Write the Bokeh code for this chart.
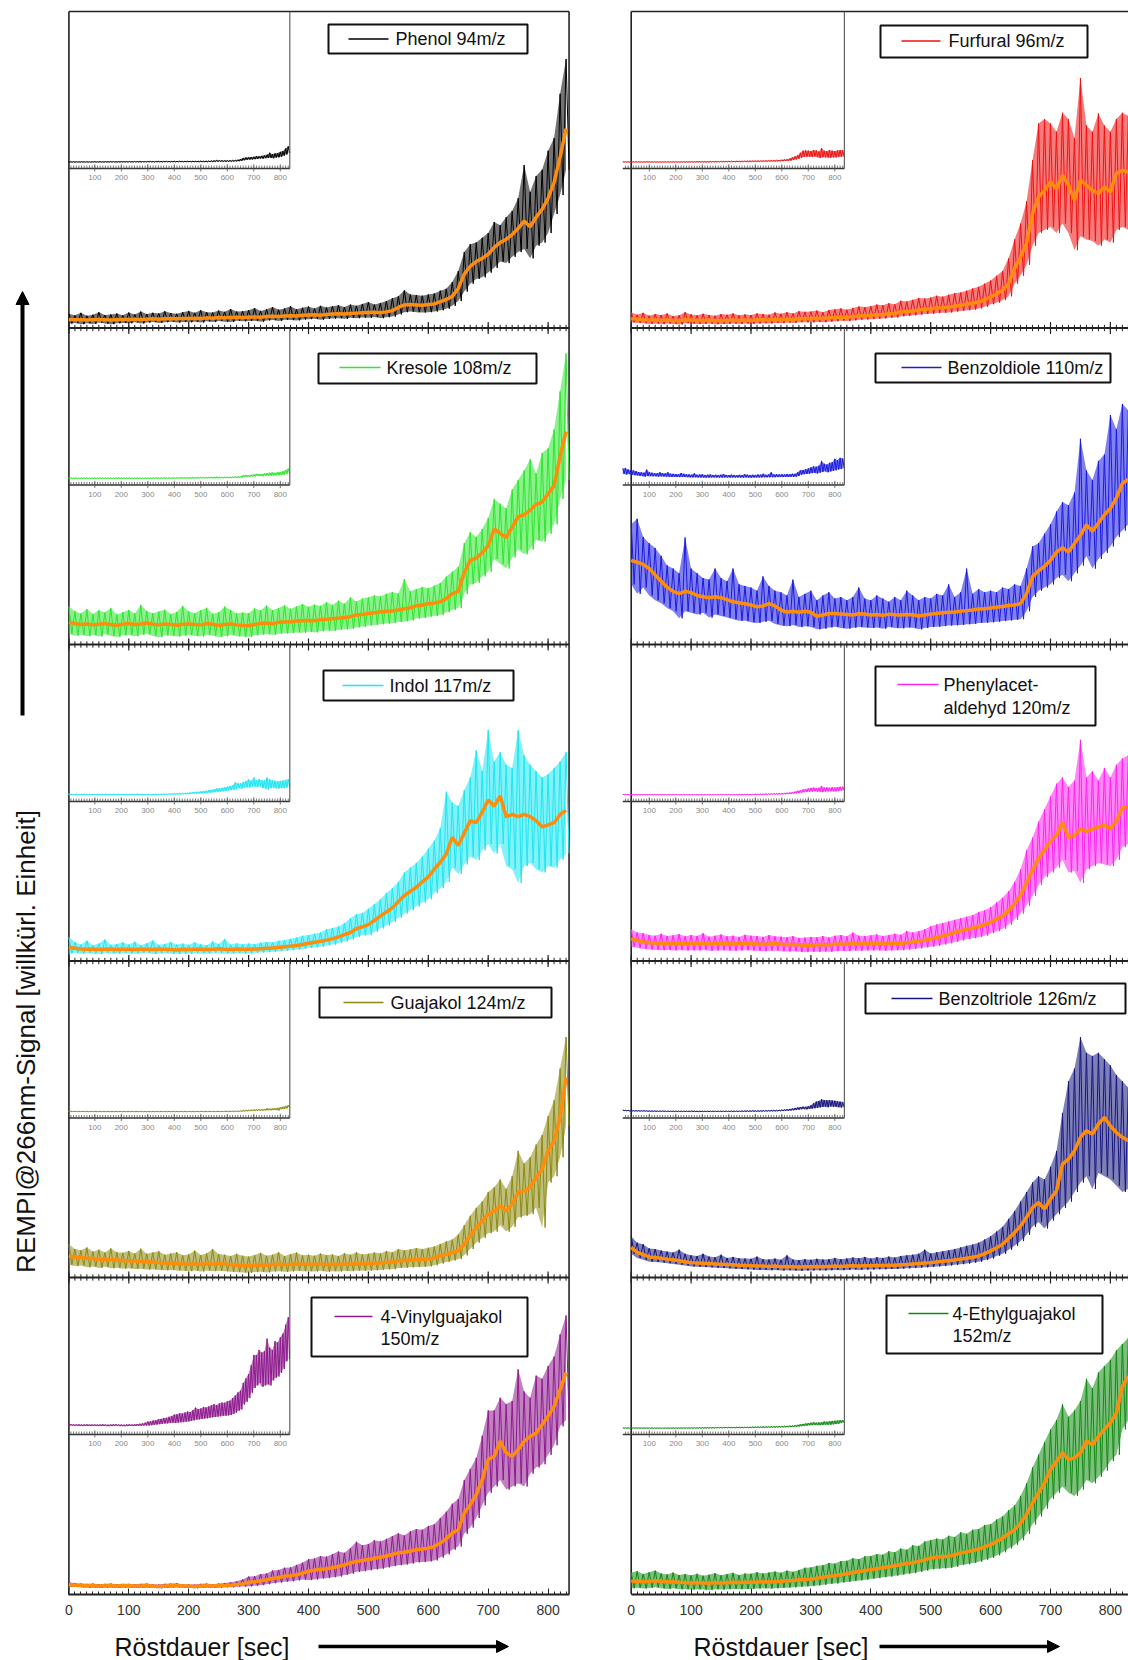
import numpy as np
from bokeh.plotting import figure
from bokeh.models import (Range1d, LinearAxis, Label, Arrow, NormalHead,
                          BoxAnnotation, FixedTicker)
from bokeh.layouts import row
from bokeh.embed import file_html
from bokeh.resources import INLINE
from bokeh.core.properties import value

# ---------------------------------------------------------------- data
TIME = list(range(0, 840, 10))                  # bin start [sec]
X_TICKS = [0, 100, 200, 300, 400, 500, 600, 700, 800]
X_MINOR = list(range(0, 840, 10))
INSET_TICKS = [100, 200, 300, 400, 500, 600, 700, 800]
INSET_LABELS = ["100", "200", "300", "400", "500", "600", "700", "800"]

# Phenol 94 m/z
PHENOL_S = [2.7, 2.6, 2.6, 2.5, 2.6, 2.7, 2.6, 2.5, 2.6, 2.7,
            2.7, 2.8, 2.7, 2.8, 2.9, 2.8, 2.9, 3.0, 2.9, 3.0,
            3.0, 3.1, 3.0, 3.2, 3.1, 3.3, 3.2, 3.3, 3.4, 3.3,
            3.4, 3.5, 3.4, 3.6, 3.7, 3.6, 3.8, 3.9, 3.8, 4.0,
            4.1, 4.2, 4.0, 4.3, 4.4, 4.5, 4.4, 4.6, 4.7, 4.8,
            4.9, 5.0, 4.8, 5.1, 5.5, 6.5, 7.3, 7.4, 7.3, 7.2,
            7.4, 7.6, 8.3, 9.0, 10.0, 12.5, 17.0, 19.5, 21.0, 22.0,
            23.3, 25.5, 27.0, 28.0, 29.5, 31.5, 33.8, 32.0, 35.0, 37.5,
            41.0, 46.0, 54.0, 63.0]
PHENOL_HI = [4.5, 4.0, 4.8, 3.9, 4.2, 5.0, 4.1, 4.3, 4.6, 4.0,
             4.9, 4.3, 5.2, 4.4, 4.8, 4.6, 5.3, 4.7, 4.5, 5.0,
             5.4, 4.8, 5.6, 5.0, 4.9, 5.5, 5.1, 6.0, 5.2, 5.3,
             5.6, 6.3, 5.4, 5.9, 6.6, 5.8, 6.2, 6.9, 5.9, 6.4,
             6.8, 6.2, 7.0, 6.5, 6.9, 7.2, 6.6, 7.4, 7.0, 7.6,
             8.2, 7.4, 7.9, 8.5, 9.4, 10.0, 11.9, 10.6, 10.4, 10.2,
             10.6, 10.9, 11.8, 12.4, 14.5, 18.0, 24.0, 26.5, 27.0, 28.5,
             30.0, 33.5, 32.5, 35.0, 37.0, 41.0, 51.5, 43.0, 48.0, 50.0,
             56.0, 60.0, 74.0, 85.0]
PHENOL_LO = [1.4, 1.6, 1.2, 1.5, 1.3, 1.7, 1.4, 1.2, 1.5, 1.6,
             1.5, 1.8, 1.4, 1.7, 1.9, 1.6, 1.8, 2.0, 1.7, 1.9,
             1.8, 2.0, 1.7, 2.1, 1.9, 2.2, 2.0, 1.9, 2.3, 2.1,
             2.2, 2.3, 2.0, 2.4, 2.5, 2.2, 2.6, 2.5, 2.4, 2.7,
             2.8, 2.9, 2.6, 2.9, 3.0, 3.1, 2.9, 3.2, 3.1, 3.3,
             3.2, 3.5, 3.1, 3.4, 3.6, 4.3, 5.0, 5.2, 5.0, 4.9,
             5.0, 5.2, 5.6, 6.1, 7.0, 8.5, 11.5, 14.0, 15.5, 16.0,
             17.5, 19.0, 21.0, 20.5, 22.5, 24.0, 25.0, 22.0, 26.0, 27.0,
             30.0, 36.0, 42.0, 50.0]

# Kresole 108 m/z
KRESOLE_S = [7.0, 6.6, 6.3, 6.5, 6.2, 6.4, 6.6, 6.3, 6.1, 6.4,
             6.6, 6.3, 6.5, 6.8, 6.4, 6.2, 6.5, 6.3, 6.1, 6.4,
             6.5, 6.3, 6.2, 6.6, 6.4, 6.0, 6.3, 6.5, 6.2, 6.0,
             5.9, 6.3, 6.6, 6.8, 6.5, 7.0, 7.1, 7.2, 7.4, 7.5,
             7.6, 7.5, 7.8, 8.0, 8.1, 8.3, 8.5, 8.8, 9.3, 9.5,
             9.8, 10.0, 10.3, 10.5, 10.6, 10.9, 11.3, 11.6, 12.2, 12.5,
             12.9, 13.1, 13.5, 14.5, 16.1, 16.8, 22.7, 26.6, 27.3, 29.0,
             31.2, 36.5, 35.1, 33.8, 37.1, 40.4, 41.0, 42.4, 44.3, 45.0,
             47.6, 50.2, 59.4, 67.3]
KRESOLE_HI = [12.0, 10.5, 9.8, 11.2, 9.6, 10.8, 10.1, 11.5, 9.5, 10.2,
              10.9, 9.8, 12.5, 10.6, 9.9, 10.4, 11.0, 9.6, 10.3, 12.2,
              10.5, 9.9, 10.8, 11.6, 9.7, 10.2, 12.0, 10.9, 9.8, 10.1,
              9.9, 11.4, 10.8, 12.3, 10.9, 11.5, 12.4, 11.3, 12.0, 12.8,
              11.9, 12.6, 12.2, 13.4, 12.5, 13.8, 12.9, 14.9, 13.6, 14.5,
              14.9, 15.5, 15.2, 16.0, 16.6, 16.1, 20.7, 16.8, 17.5, 18.2,
              17.8, 18.6, 19.4, 21.5, 23.0, 24.5, 32.0, 35.5, 34.0, 36.5,
              40.0, 46.0, 44.5, 43.0, 49.0, 52.0, 55.0, 58.5, 54.0, 60.5,
              62.0, 68.0, 80.0, 92.0]
KRESOLE_LO = [3.4, 2.8, 3.1, 2.6, 3.0, 2.5, 3.2, 2.7, 2.4, 2.9,
              3.0, 2.6, 3.1, 3.3, 2.7, 2.3, 2.9, 2.8, 2.5, 2.8,
              3.0, 2.7, 2.5, 3.1, 2.8, 2.4, 2.6, 3.0, 2.6, 2.5,
              2.4, 2.9, 3.1, 3.3, 3.0, 3.4, 3.5, 3.6, 3.8, 3.7,
              4.0, 3.8, 4.2, 4.4, 4.3, 4.6, 4.8, 5.0, 5.4, 5.6,
              6.0, 6.2, 6.4, 6.6, 6.8, 7.1, 7.3, 7.6, 8.2, 8.4,
              8.8, 9.0, 9.3, 10.2, 11.0, 11.5, 16.0, 19.0, 19.5, 21.5,
              23.0, 27.0, 25.5, 24.0, 27.5, 30.0, 28.5, 30.0, 33.0, 32.5,
              35.0, 38.0, 46.0, 52.0]

# Indol 117 m/z
INDOL_S = [4.3, 4.0, 3.8, 3.7, 3.8, 3.6, 3.7, 3.8, 3.6, 3.7,
           3.7, 3.6, 3.8, 3.7, 3.6, 3.8, 3.7, 3.6, 3.5, 3.7,
           3.6, 3.7, 3.8, 3.6, 3.7, 3.9, 3.7, 3.6, 3.8, 3.7,
           3.7, 3.8, 3.9, 4.0, 4.1, 4.3, 4.5, 4.7, 4.9, 5.2,
           5.6, 5.9, 6.2, 6.6, 7.0, 7.6, 8.3, 9.0, 10.2, 10.8,
           11.5, 12.8, 14.2, 15.5, 16.8, 18.8, 20.7, 22.0, 23.3, 25.0,
           26.6, 29.0, 31.2, 33.8, 39.1, 36.5, 40.4, 44.3, 43.7, 47.0,
           50.9, 48.9, 52.2, 45.6, 46.3, 45.6, 46.3, 45.6, 44.3, 42.4,
           43.0, 43.7, 46.3, 47.6]
INDOL_HI = [7.5, 6.0, 5.2, 6.4, 5.0, 5.5, 6.8, 5.1, 5.4, 5.9,
            5.2, 6.1, 5.0, 5.6, 6.5, 5.1, 5.4, 6.0, 5.2, 5.5,
            5.1, 5.9, 5.3, 5.0, 6.2, 5.4, 7.0, 5.2, 5.6, 5.3,
            5.5, 5.4, 5.8, 6.0, 5.9, 6.4, 6.6, 7.0, 7.4, 8.0,
            8.2, 8.6, 9.0, 10.0, 10.4, 10.9, 12.0, 13.5, 14.8, 15.2,
            16.5, 18.0, 19.5, 21.5, 23.0, 25.0, 28.0, 29.5, 31.0, 33.0,
            35.5, 38.0, 42.0, 53.5, 50.0, 49.0, 54.0, 58.0, 66.6, 60.0,
            73.0, 63.0, 66.0, 62.0, 61.0, 73.0, 65.0, 62.0, 60.0, 58.0,
            59.0, 61.0, 63.0, 66.0]
INDOL_LO = [2.4, 2.6, 2.3, 2.5, 2.4, 2.2, 2.6, 2.4, 2.3, 2.5,
            2.4, 2.3, 2.5, 2.6, 2.2, 2.4, 2.5, 2.3, 2.2, 2.4,
            2.3, 2.5, 2.4, 2.3, 2.6, 2.5, 2.4, 2.3, 2.5, 2.4,
            2.4, 2.6, 2.7, 2.8, 2.9, 3.1, 3.2, 3.4, 3.6, 3.8,
            4.1, 4.3, 4.5, 4.9, 5.2, 5.7, 6.2, 6.8, 7.6, 8.1,
            8.2, 9.2, 10.3, 11.2, 12.3, 13.6, 15.0, 16.0, 17.2, 18.5,
            19.5, 21.5, 23.0, 25.0, 29.5, 27.5, 30.5, 33.0, 32.0, 35.0,
            37.0, 34.0, 37.0, 30.0, 29.0, 24.7, 30.0, 31.0, 29.0, 28.0,
            30.0, 29.5, 32.0, 34.0]

# Guajakol 124 m/z
GUAJAKOL_S = [6.8, 6.5, 6.3, 6.1, 6.0, 5.8, 5.7, 5.6, 5.5, 5.4,
              5.3, 5.2, 5.1, 5.0, 4.9, 4.7, 4.6, 4.5, 4.4, 4.3,
              4.2, 4.3, 4.1, 4.4, 4.2, 4.4, 4.3, 4.0, 3.9, 3.8,
              3.7, 3.8, 4.0, 3.9, 4.1, 4.2, 4.0, 4.1, 4.3, 4.2,
              4.2, 4.1, 4.3, 4.0, 4.2, 4.1, 4.3, 4.2, 4.4, 4.3,
              4.4, 4.5, 4.6, 4.8, 4.9, 5.3, 5.4, 5.5, 5.6, 5.7,
              5.8, 6.2, 6.8, 7.3, 7.9, 8.4, 10.5, 13.2, 15.8, 17.9,
              20.0, 21.0, 22.7, 21.0, 23.2, 26.9, 27.4, 28.5, 31.6, 34.2,
              40.0, 43.2, 50.6, 63.2]
GUAJAKOL_HI = [10.5, 9.0, 8.6, 9.5, 8.2, 8.8, 7.9, 9.2, 8.0, 7.8,
               8.4, 7.6, 9.1, 7.5, 7.9, 8.3, 7.2, 7.6, 8.0, 7.0,
               7.3, 8.5, 7.1, 7.6, 9.0, 7.4, 7.2, 6.8, 7.5, 6.9,
               6.6, 7.1, 7.8, 6.9, 7.2, 8.0, 6.8, 7.4, 7.9, 7.0,
               7.2, 6.9, 7.6, 7.1, 7.3, 6.8, 7.7, 7.2, 8.0, 7.3,
               7.5, 7.9, 7.6, 8.4, 8.0, 9.0, 8.6, 8.9, 9.3, 9.0,
               9.4, 9.8, 10.6, 11.4, 12.0, 13.6, 16.5, 19.5, 22.0, 24.0,
               27.0, 28.5, 31.0, 28.0, 32.0, 40.0, 36.0, 38.0, 42.0, 45.0,
               51.0, 56.0, 66.0, 76.0]
GUAJAKOL_LO = [4.0, 3.6, 3.8, 3.2, 3.5, 3.0, 3.4, 2.9, 3.1, 2.8,
               2.9, 2.7, 2.8, 2.5, 2.6, 2.4, 2.3, 2.4, 2.2, 2.1,
               2.0, 2.2, 1.9, 2.2, 2.0, 2.1, 2.0, 1.8, 1.7, 1.6,
               1.5, 1.7, 1.8, 1.6, 1.9, 2.0, 1.8, 1.9, 2.1, 2.0,
               2.0, 1.9, 2.1, 1.8, 2.0, 1.9, 2.1, 2.0, 2.2, 2.1,
               2.2, 2.3, 2.4, 2.6, 2.6, 3.0, 3.1, 3.2, 3.3, 3.4,
               3.5, 3.9, 4.4, 4.9, 5.4, 5.8, 7.0, 9.0, 11.0, 12.5,
               14.0, 14.5, 16.5, 14.5, 16.0, 19.0, 19.5, 20.0, 22.0, 15.8,
               30.0, 32.0, 38.0, 48.0]

# 4-Vinylguajakol 150 m/z
VINYL_S = [3.0, 2.8, 2.7, 2.6, 2.6, 2.5, 2.6, 2.6, 2.5, 2.6,
           2.6, 2.5, 2.5, 2.6, 2.5, 2.4, 2.5, 2.6, 2.7, 2.5,
           2.5, 2.4, 2.5, 2.6, 2.5, 2.6, 2.7, 2.8, 3.0, 3.2,
           3.7, 3.9, 4.2, 4.5, 4.9, 5.2, 5.6, 5.8, 6.1, 6.6,
           7.2, 7.5, 7.8, 8.0, 8.3, 8.7, 9.2, 9.8, 10.3, 10.6,
           10.9, 11.3, 11.6, 12.0, 12.5, 13.0, 13.2, 13.6, 14.0, 14.2,
           14.5, 15.0, 16.1, 17.5, 19.3, 20.3, 25.6, 28.2, 31.4, 36.1,
           42.5, 43.5, 48.3, 44.6, 43.5, 45.6, 48.3, 49.8, 50.9, 53.5,
           56.2, 59.3, 64.6, 69.9]
VINYL_HI = [3.8, 3.4, 3.3, 3.2, 3.3, 3.1, 3.2, 3.3, 3.1, 3.2,
            3.2, 3.1, 3.2, 3.3, 3.1, 3.0, 3.2, 3.3, 3.4, 3.1,
            3.1, 3.0, 3.2, 3.3, 3.1, 3.3, 3.5, 3.7, 4.0, 4.6,
            5.5, 5.6, 6.3, 6.5, 7.4, 7.6, 8.3, 8.4, 9.2, 9.9,
            11.0, 11.2, 12.0, 11.8, 12.6, 13.4, 13.0, 14.5, 16.5, 15.4,
            15.8, 17.0, 16.6, 17.4, 18.3, 19.2, 18.5, 19.8, 20.5, 20.3,
            21.5, 22.0, 24.0, 26.0, 28.5, 30.0, 36.0, 39.5, 43.0, 50.0,
            58.0, 58.0, 62.0, 60.0, 61.0, 71.0, 64.0, 62.0, 69.0, 68.0,
            72.0, 75.0, 82.0, 88.0]
VINYL_LO = [2.3, 2.2, 2.1, 2.0, 2.0, 1.9, 2.0, 2.0, 1.9, 2.0,
            2.0, 1.9, 1.9, 2.0, 1.9, 1.8, 1.9, 2.0, 2.1, 1.9,
            1.9, 1.8, 1.9, 2.0, 1.9, 2.0, 2.1, 2.1, 2.3, 2.4,
            2.4, 2.6, 2.8, 3.1, 3.4, 3.6, 3.9, 4.0, 4.3, 4.6,
            4.4, 4.6, 4.9, 5.0, 5.3, 5.5, 6.0, 6.4, 7.0, 7.2,
            7.5, 7.8, 8.0, 8.4, 8.8, 9.1, 9.3, 9.6, 10.0, 10.1,
            10.3, 10.6, 11.5, 12.5, 14.0, 15.0, 19.0, 21.0, 24.0, 28.0,
            32.0, 34.0, 36.0, 33.0, 34.0, 35.0, 34.0, 38.0, 40.0, 41.0,
            44.0, 47.0, 53.0, 55.0]

# Furfural 96 m/z
FURFURAL_S = [3.0, 2.8, 2.6, 2.5, 2.5, 2.4, 2.5, 2.4, 2.3, 2.6,
              2.5, 2.4, 2.4, 2.5, 2.3, 2.4, 2.4, 2.5, 2.4, 2.5,
              2.4, 2.5, 2.6, 2.5, 2.7, 2.6, 2.8, 2.7, 2.9, 2.9,
              3.0, 3.1, 3.0, 3.2, 3.3, 3.5, 3.4, 3.6, 3.8, 3.9,
              4.0, 4.2, 4.3, 4.5, 4.6, 5.1, 5.2, 5.4, 5.7, 5.9,
              6.1, 6.3, 6.4, 6.6, 6.9, 7.2, 7.5, 7.8, 8.2, 8.9,
              9.8, 10.8, 11.9, 14.0, 18.8, 22.4, 26.7, 36.1, 41.4, 43.5,
              46.2, 44.0, 48.3, 45.1, 40.4, 46.7, 45.1, 43.5, 42.5, 44.6,
              43.0, 48.8, 49.8, 49.3]
FURFURAL_HI = [5.0, 4.2, 4.8, 3.9, 4.4, 4.1, 4.6, 3.8, 4.0, 5.0,
               4.3, 4.0, 4.5, 4.1, 3.9, 4.4, 4.2, 4.6, 4.0, 4.3,
               4.1, 4.6, 4.4, 4.2, 4.9, 4.5, 5.0, 4.6, 5.3, 5.1,
               5.2, 5.5, 5.0, 5.7, 5.9, 6.2, 5.8, 6.3, 6.8, 6.6,
               6.9, 7.4, 7.2, 7.8, 7.5, 8.6, 8.4, 8.9, 9.5, 9.3,
               9.6, 10.2, 9.9, 10.5, 11.0, 11.2, 11.8, 12.5, 13.0, 14.0,
               15.0, 16.5, 18.0, 22.0, 28.0, 33.0, 40.0, 53.0, 64.6, 66.0,
               64.6, 62.0, 68.0, 66.0, 60.0, 79.0, 64.0, 62.0, 67.8, 64.0,
               62.0, 66.0, 68.0, 67.0]
FURFURAL_LO = [1.8, 1.6, 1.5, 1.3, 1.4, 1.2, 1.4, 1.3, 1.1, 1.5,
               1.4, 1.3, 1.3, 1.4, 1.2, 1.3, 1.3, 1.4, 1.3, 1.4,
               1.3, 1.4, 1.5, 1.4, 1.6, 1.5, 1.7, 1.6, 1.8, 1.8,
               1.8, 1.9, 1.8, 2.0, 2.1, 2.3, 2.2, 2.4, 2.6, 2.7,
               2.8, 2.9, 3.0, 3.2, 3.3, 3.7, 3.8, 4.0, 4.2, 4.4,
               4.5, 4.7, 4.8, 4.9, 5.2, 5.4, 5.6, 5.8, 6.2, 6.7,
               7.5, 8.0, 8.8, 10.0, 14.0, 16.5, 20.0, 26.0, 30.0, 31.0,
               32.0, 30.0, 33.0, 30.0, 24.6, 29.0, 28.0, 27.5, 26.0, 28.0,
               27.0, 31.0, 32.0, 31.0]

# Benzoldiole 110 m/z
BENZOLDIOLE_S = [26.6, 26.0, 25.3, 24.0, 22.0, 20.0, 18.1, 16.8, 16.1, 16.8,
                 16.4, 15.5, 15.1, 14.8, 15.1, 14.8, 14.2, 13.5, 13.2, 12.9,
                 12.5, 11.9, 12.2, 12.9, 12.2, 10.9, 10.2, 10.5, 10.2, 10.5,
                 10.2, 8.9, 9.3, 9.8, 9.8, 9.6, 9.5, 9.3, 9.7, 9.6,
                 9.3, 9.5, 9.2, 9.6, 9.4, 9.3, 9.5, 9.4, 9.0, 9.3,
                 9.6, 9.8, 10.0, 10.2, 10.3, 10.5, 10.7, 10.9, 11.2, 11.3,
                 11.5, 11.8, 12.0, 12.3, 12.5, 12.9, 16.1, 21.4, 23.3, 24.7,
                 26.6, 29.2, 30.6, 29.2, 31.9, 34.5, 37.8, 35.8, 38.4, 41.0,
                 43.0, 46.3, 50.9, 52.2]
BENZOLDIOLE_HI = [38.0, 39.7, 34.0, 32.0, 30.5, 28.0, 25.0, 24.0, 22.5, 33.8,
                  24.0, 22.5, 21.0, 20.5, 24.0, 21.0, 20.0, 24.0, 19.0, 18.5,
                  18.0, 17.0, 21.5, 18.5, 17.0, 16.5, 15.5, 20.5, 15.0, 16.0,
                  17.0, 14.0, 15.5, 16.5, 14.5, 15.0, 14.0, 15.0, 18.0, 14.5,
                  14.0, 15.5, 14.5, 13.5, 15.0, 14.0, 17.0, 15.5, 14.0, 15.0,
                  14.5, 16.0, 15.5, 19.0, 15.0, 16.5, 24.0, 16.0, 17.5, 16.5,
                  17.0, 16.5, 18.0, 17.5, 19.0, 18.5, 24.0, 31.0, 32.0, 35.0,
                  38.0, 42.0, 45.0, 44.0, 48.0, 65.0, 55.0, 52.0, 58.0, 60.0,
                  72.5, 68.0, 76.0, 74.0]
BENZOLDIOLE_LO = [19.0, 16.0, 18.0, 15.5, 14.0, 13.0, 11.5, 10.5, 8.3, 10.5,
                  10.0, 9.5, 10.0, 8.5, 9.5, 9.0, 8.5, 8.0, 7.5, 7.5,
                  7.0, 6.8, 7.2, 7.5, 6.5, 6.0, 5.8, 6.2, 5.5, 5.8,
                  5.5, 4.8, 5.0, 5.4, 5.6, 5.2, 5.0, 5.3, 5.5, 5.4,
                  5.2, 5.4, 5.0, 5.5, 5.2, 5.1, 5.4, 5.3, 4.8, 5.2,
                  5.5, 5.6, 5.8, 6.0, 6.1, 6.2, 6.4, 6.5, 6.8, 6.9,
                  7.0, 7.2, 7.4, 7.6, 7.8, 8.0, 10.5, 15.0, 17.0, 18.0,
                  19.0, 21.0, 22.0, 20.0, 22.5, 25.0, 28.0, 24.0, 27.0, 29.0,
                  31.0, 34.0, 36.0, 38.0]

# Phenylacetaldehyd 120 m/z
PHENYLACET_S = [7.0, 6.6, 6.0, 5.8, 5.7, 5.6, 5.6, 5.5, 5.6, 5.5,
                5.6, 5.5, 5.6, 5.4, 5.5, 5.6, 5.5, 5.4, 5.5, 5.6,
                5.5, 5.4, 5.3, 5.4, 5.5, 5.3, 5.2, 5.2, 5.1, 5.0,
                5.0, 5.1, 5.2, 5.1, 5.3, 5.4, 5.3, 5.5, 5.4, 5.5,
                5.5, 5.6, 5.4, 5.5, 5.6, 5.6, 5.8, 6.0, 6.3, 6.6,
                7.0, 7.4, 7.9, 8.4, 9.0, 9.6, 10.0, 10.4, 10.9, 11.5,
                12.2, 13.2, 14.2, 16.0, 18.1, 20.7, 24.7, 28.6, 32.5, 35.1,
                37.8, 39.7, 43.7, 39.1, 39.7, 41.7, 41.0, 41.7, 42.4, 43.0,
                41.7, 44.3, 48.3, 48.9]
PHENYLACET_HI = [10.0, 9.0, 8.8, 8.2, 8.0, 8.6, 7.9, 8.1, 8.5, 7.8,
                 8.2, 7.9, 8.8, 7.7, 8.0, 8.4, 7.8, 8.0, 7.6, 8.3,
                 8.0, 7.9, 7.6, 8.2, 7.8, 7.7, 7.5, 7.9, 7.3, 7.4,
                 7.6, 7.5, 7.9, 7.4, 8.0, 8.2, 7.8, 9.0, 8.0, 7.9,
                 8.1, 8.4, 7.9, 8.2, 8.6, 8.3, 9.5, 9.0, 9.4, 10.0,
                 11.0, 11.5, 12.0, 12.5, 13.0, 13.5, 14.0, 14.5, 15.5, 16.0,
                 17.0, 18.5, 20.0, 22.0, 25.0, 29.0, 35.0, 39.0, 44.0, 48.0,
                 52.0, 56.0, 58.0, 55.0, 57.0, 69.9, 58.0, 60.0, 57.0, 61.0,
                 58.0, 62.0, 64.0, 65.0]
PHENYLACET_LO = [4.5, 4.2, 3.8, 3.6, 3.5, 3.4, 3.5, 3.3, 3.5, 3.3,
                 3.4, 3.3, 3.5, 3.2, 3.3, 3.4, 3.3, 3.2, 3.3, 3.4,
                 3.3, 3.2, 3.1, 3.2, 3.3, 3.1, 3.0, 3.1, 2.9, 2.8,
                 2.9, 2.9, 3.0, 2.9, 3.1, 3.2, 3.1, 3.3, 3.2, 3.3,
                 3.3, 3.4, 3.2, 3.3, 3.4, 3.4, 3.6, 3.8, 4.0, 4.3,
                 4.5, 4.8, 5.2, 5.6, 6.0, 6.5, 6.9, 7.2, 7.6, 8.0,
                 8.8, 9.4, 10.2, 11.5, 13.0, 15.0, 17.5, 20.5, 24.0, 26.5,
                 28.0, 29.5, 32.0, 28.0, 28.5, 24.7, 29.0, 30.0, 31.0, 30.5,
                 30.0, 32.0, 36.0, 37.0]

# Benzoltriole 126 m/z
BENZOLTRIOLE_S = [9.5, 7.9, 7.2, 6.5, 6.3, 6.1, 5.8, 5.6, 5.3, 5.0,
                  4.7, 4.6, 4.5, 4.4, 4.3, 4.2, 4.1, 4.0, 3.9, 3.8,
                  3.7, 3.6, 3.6, 3.5, 3.6, 3.4, 3.5, 3.4, 3.3, 3.4,
                  3.4, 3.5, 3.4, 3.5, 3.6, 3.5, 3.6, 3.7, 3.6, 3.7,
                  3.7, 3.8, 3.8, 3.9, 3.9, 4.0, 4.1, 4.3, 4.4, 4.6,
                  4.7, 4.9, 5.1, 5.3, 5.5, 5.8, 6.1, 6.4, 6.8, 7.5,
                  8.4, 9.4, 10.5, 12.3, 14.2, 16.3, 19.0, 22.1, 23.7, 21.6,
                  24.8, 27.4, 35.8, 37.4, 40.0, 44.3, 46.4, 45.3, 48.5, 50.6,
                  47.9, 45.8, 44.3, 43.2]
BENZOLTRIOLE_HI = [13.0, 11.0, 10.5, 9.2, 9.0, 8.5, 8.2, 7.9, 8.8, 7.5,
                   7.0, 6.8, 7.5, 6.6, 6.4, 7.2, 6.2, 6.5, 6.1, 6.0,
                   5.9, 6.6, 5.8, 5.7, 6.0, 5.6, 7.0, 5.7, 5.5, 5.8,
                   5.6, 5.9, 5.7, 5.8, 6.2, 5.8, 6.0, 6.3, 6.1, 6.5,
                   6.0, 6.4, 6.2, 6.6, 6.3, 6.8, 7.0, 7.2, 7.5, 8.8,
                   7.6, 8.0, 8.3, 8.6, 9.0, 9.5, 10.0, 10.4, 11.0, 12.0,
                   13.0, 14.5, 16.0, 18.5, 21.0, 24.0, 27.0, 30.0, 32.0, 31.0,
                   35.0, 40.0, 52.0, 62.0, 66.0, 75.9, 71.0, 70.0, 71.0, 69.0,
                   67.0, 64.0, 62.0, 60.0]
BENZOLTRIOLE_LO = [7.5, 6.2, 5.6, 5.0, 4.9, 4.7, 4.5, 4.3, 4.0, 3.8,
                   3.5, 3.4, 3.3, 3.2, 3.1, 3.0, 2.9, 2.8, 2.7, 2.6,
                   2.5, 2.4, 2.4, 2.3, 2.4, 2.2, 2.3, 2.2, 2.1, 2.2,
                   2.2, 2.3, 2.2, 2.3, 2.4, 2.3, 2.4, 2.5, 2.4, 2.5,
                   2.5, 2.6, 2.6, 2.7, 2.7, 2.8, 2.9, 3.0, 3.1, 3.2,
                   3.3, 3.5, 3.6, 3.8, 4.0, 4.2, 4.4, 4.7, 5.0, 5.5,
                   6.0, 6.8, 7.5, 8.8, 10.0, 11.5, 13.5, 16.0, 17.5, 15.5,
                   18.0, 20.0, 22.0, 24.0, 27.0, 30.0, 32.0, 28.0, 33.0, 32.0,
                   31.0, 29.0, 27.0, 28.0]

# 4-Ethylguajakol 152 m/z
ETHYL_S = [4.0, 4.1, 3.9, 4.0, 4.2, 4.0, 3.8, 3.9, 3.7, 3.6,
           3.5, 3.6, 3.5, 3.4, 3.6, 3.5, 3.6, 3.7, 3.6, 3.7,
           3.7, 3.8, 3.9, 3.8, 3.9, 4.0, 4.2, 4.3, 4.5, 4.6,
           4.7, 5.0, 5.3, 5.6, 5.8, 6.1, 6.4, 6.8, 7.1, 7.4,
           7.7, 8.0, 8.3, 8.6, 8.9, 9.3, 9.6, 9.9, 10.3, 10.8,
           11.4, 11.6, 11.8, 11.9, 12.4, 13.0, 13.3, 13.7, 14.2, 14.9,
           15.6, 16.6, 17.7, 19.0, 20.3, 22.4, 25.1, 28.8, 31.9, 35.1,
           39.3, 41.9, 44.6, 42.5, 43.0, 44.6, 48.3, 47.2, 49.8, 52.0,
           54.1, 57.2, 65.6, 68.8]
ETHYL_HI = [6.8, 7.2, 6.3, 6.9, 7.4, 6.5, 6.2, 6.8, 6.0, 6.3,
            5.9, 6.4, 5.8, 6.1, 6.6, 5.9, 6.3, 6.7, 6.0, 6.5,
            6.4, 6.9, 6.5, 6.8, 7.1, 6.7, 7.4, 7.0, 7.6, 8.3,
            8.4, 8.9, 9.1, 9.8, 9.6, 10.4, 10.5, 11.3, 11.0, 11.9,
            12.0, 12.6, 12.4, 13.5, 13.2, 14.4, 14.0, 15.4, 15.2, 16.6,
            17.0, 17.5, 17.2, 18.4, 18.0, 19.5, 19.0, 20.3, 20.5, 21.8,
            22.0, 23.5, 24.5, 26.5, 28.0, 31.0, 35.0, 40.0, 44.0, 48.0,
            52.0, 55.0, 60.0, 56.0, 58.0, 61.0, 68.0, 65.0, 70.0, 72.0,
            74.0, 77.0, 79.0, 81.0]
ETHYL_LO = [1.8, 2.0, 1.7, 1.9, 2.1, 1.8, 1.6, 1.8, 1.5, 1.5,
            1.4, 1.5, 1.4, 1.3, 1.5, 1.4, 1.5, 1.6, 1.5, 1.6,
            1.6, 1.7, 1.8, 1.7, 1.8, 1.9, 2.0, 2.1, 2.3, 2.4,
            2.5, 2.7, 2.9, 3.2, 3.3, 3.6, 3.8, 4.1, 4.3, 4.5,
            4.8, 5.0, 5.3, 5.5, 5.8, 6.1, 6.4, 6.6, 7.0, 7.4,
            7.8, 8.0, 8.1, 8.2, 8.6, 9.2, 9.4, 9.8, 10.2, 10.8,
            11.4, 12.2, 13.2, 14.4, 15.5, 17.0, 19.0, 22.0, 24.5, 27.0,
            30.0, 32.0, 34.0, 32.0, 31.0, 33.0, 36.0, 35.0, 37.0, 39.0,
            42.0, 44.0, 52.0, 55.0]

# inset: magnification of each trace relative to its main panel
INSET_RATIO = {"phenol": 0.060, "kresole": 0.036, "indol": 0.078,
               "guajakol": 0.029, "vinyl": 0.40, "furfural": 0.058,
               "benzoldiole": 0.088, "phenylacet": 0.043,
               "benzoltriole": 0.053, "ethyl": 0.033}

# ---------------------------------------------------------------- style / layout (page pixels)
FONT = "Liberation Sans"
ORANGE = "#ff8c0a"
AX_COL = "#222222"
FIG_H = 1660
PANEL_TOP, PANEL_BOTTOM = 11.0, 1593.5
PANEL_H = (PANEL_BOTTOM - PANEL_TOP) / 5.0
Y_START = -(FIG_H - PANEL_BOTTOM) / PANEL_H
Y_END = 5.0 + PANEL_TOP / PANEL_H
PX_S = 0.599          # main panels, px per second
IPX_S = 0.265         # insets, px per second
T_END = 835
BASE_F = (PANEL_H - 151) / PANEL_H       # inset zero line (fraction of panel from bottom)
AXIS_F = (PANEL_H - 157) / PANEL_H       # inset axis line

LEFT_PANELS = [
    dict(key="phenol", s=PHENOL_S, hi=PHENOL_HI, lo=PHENOL_LO, color="#000000",
         text=["Phenol 94m/z"], box=(328, 527, 24, 53), line=(348, 388), ty=[38.5], tx=395),
    dict(key="kresole", s=KRESOLE_S, hi=KRESOLE_HI, lo=KRESOLE_LO, color="#2ee62e",
         text=["Kresole 108m/z"], box=(318, 536, 353, 383), line=(339, 380), ty=[367], tx=386),
    dict(key="indol", s=INDOL_S, hi=INDOL_HI, lo=INDOL_LO, color="#1ee6f2",
         text=["Indol 117m/z"], box=(323, 513, 670, 700), line=(342, 383), ty=[685], tx=389),
    dict(key="guajakol", s=GUAJAKOL_S, hi=GUAJAKOL_HI, lo=GUAJAKOL_LO, color="#8c8a12",
         text=["Guajakol 124m/z"], box=(319, 551, 987, 1017), line=(343, 383), ty=[1002], tx=390),
    dict(key="vinyl", s=VINYL_S, hi=VINYL_HI, lo=VINYL_LO, color="#8e1a8e",
         text=["4-Vinylguajakol", "150m/z"], box=(311, 527, 1297, 1356), line=(334, 372),
         ty=[1316, 1338], tx=380),
]
RIGHT_PANELS = [
    dict(key="furfural", s=FURFURAL_S, hi=FURFURAL_HI, lo=FURFURAL_LO, color="#ee1111",
         text=["Furfural 96m/z"], box=(880, 1087, 25, 57), line=(901, 940), ty=[40.5], tx=948),
    dict(key="benzoldiole", s=BENZOLDIOLE_S, hi=BENZOLDIOLE_HI, lo=BENZOLDIOLE_LO, color="#1a1ae0",
         text=["Benzoldiole 110m/z"], box=(875, 1110, 353, 382), line=(901, 941), ty=[367], tx=947),
    dict(key="phenylacet", s=PHENYLACET_S, hi=PHENYLACET_HI, lo=PHENYLACET_LO, color="#ff22ee",
         text=["Phenylacet-", "aldehyd 120m/z"], box=(875, 1095, 666, 725), line=(897, 938),
         ty=[684, 707], tx=943),
    dict(key="benzoltriole", s=BENZOLTRIOLE_S, hi=BENZOLTRIOLE_HI, lo=BENZOLTRIOLE_LO, color="#15157c",
         text=["Benzoltriole 126m/z"], box=(865, 1125, 983, 1013), line=(891, 932), ty=[998], tx=938),
    dict(key="ethyl", s=ETHYL_S, hi=ETHYL_HI, lo=ETHYL_LO, color="#128a12",
         text=["4-Ethylguajakol", "152m/z"], box=(886, 1102, 1295, 1353), line=(908, 948),
         ty=[1313, 1335], tx=952),
]

for pan in LEFT_PANELS + RIGHT_PANELS:
    for nm in ("s", "hi", "lo"):
        assert len(pan[nm]) == len(TIME), (pan["key"], nm, len(pan[nm]))


def build(panels, fig_left, width, t0_page, it0_page):
    """One column: frame covers the whole canvas, panels placed through ranges."""
    t0 = t0_page - fig_left
    it0 = it0_page - fig_left
    p = figure(width=width, height=FIG_H,
               x_range=Range1d(-t0 / PX_S, (width - t0) / PX_S),
               y_range=Range1d(Y_START, Y_END),
               output_backend="svg", toolbar_location=None,
               x_axis_location=None, y_axis_location=None,
               min_border_left=0, min_border_right=0, min_border_top=0, min_border_bottom=0)
    p.xgrid.visible = False
    p.ygrid.visible = False
    p.outline_line_color = None
    p.background_fill_color = "white"
    p.border_fill_color = "white"

    # bottom time axis (real axis pinned to the bottom panel edge)
    ax = LinearAxis(fixed_location=0, bounds=(0, T_END),
                    ticker=FixedTicker(ticks=X_TICKS, minor_ticks=X_MINOR),
                    axis_line_width=2, axis_line_color=AX_COL,
                    major_tick_in=6, major_tick_out=0, minor_tick_in=3, minor_tick_out=0,
                    major_tick_line_color=AX_COL, minor_tick_line_color=AX_COL,
                    major_label_standoff=11, major_label_text_font=FONT,
                    major_label_text_font_size="14px", major_label_text_color="#333333")
    p.add_layout(ax, "below")

    # panel frame: left, top, right edges
    p.segment(x0=[0, 0, T_END], y0=[0, 5, 0], x1=[0, T_END, T_END], y1=[5, 5, 5],
              line_color=AX_COL, line_width=1.6)
    # separators between the stacked panels, ticks crossing the line
    mj = 6.0 / PANEL_H
    mn = 3.2 / PANEL_H
    for k in (1, 2, 3, 4):
        p.segment(x0=[0], y0=[k], x1=[T_END], y1=[k], line_color=AX_COL, line_width=2)
        p.segment(x0=X_MINOR, y0=[k - mn] * len(X_MINOR), x1=X_MINOR, y1=[k + mn] * len(X_MINOR),
                  line_color=AX_COL, line_width=1)
        p.segment(x0=X_TICKS, y0=[k - mj] * len(X_TICKS), x1=X_TICKS, y1=[k + mj] * len(X_TICKS),
                  line_color=AX_COL, line_width=1.2)

    p.extra_x_ranges = {"ix": Range1d(-it0 / IPX_S, (width - it0) / IPX_S)}
    yr = {}
    for i, pan in enumerate(panels):
        k = 4 - i
        r = INSET_RATIO[pan["key"]]
        yr[f"m{i}"] = Range1d((Y_START - k) * 100.0, (Y_END - k) * 100.0)
        yr[f"i{i}"] = Range1d((Y_START - k - BASE_F) * 100.0 / r, (Y_END - k - BASE_F) * 100.0 / r)
    p.extra_y_ranges = yr

    t = np.array(TIME, dtype=float)
    zx = np.column_stack([t, t + 5]).ravel()
    tick_len = 3.0 / PANEL_H
    for i, pan in enumerate(panels):
        k = 4 - i
        zy = np.column_stack([pan["hi"], pan["lo"]]).ravel()
        # main panel: noisy raw signal (envelope + trace) and smoothed curve
        p.varea(x=t, y1=pan["lo"], y2=pan["hi"], y_range_name=f"m{i}",
                fill_color=pan["color"], fill_alpha=0.55)
        p.line(zx, zy, y_range_name=f"m{i}", line_color=pan["color"], line_width=1)
        p.line(t, pan["s"], y_range_name=f"m{i}", line_color=ORANGE, line_width=3.5)
        # inset
        p.varea(x=t, y1=pan["lo"], y2=pan["hi"], x_range_name="ix", y_range_name=f"i{i}",
                fill_color=pan["color"], fill_alpha=0.55)
        p.line(zx, zy, x_range_name="ix", y_range_name=f"i{i}", line_color=pan["color"], line_width=1)
        ya = k + AXIS_F
        p.segment(x0=[0], y0=[ya], x1=[836], y1=[ya], x_range_name="ix",
                  line_color="#333333", line_width=1.5)
        p.segment(x0=[836], y0=[ya], x1=[836], y1=[k + 1], x_range_name="ix",
                  line_color="#444444", line_width=1)
        mt = list(range(10, 840, 10))
        p.segment(x0=mt, y0=[ya] * len(mt), x1=mt, y1=[ya + tick_len] * len(mt),
                  x_range_name="ix", line_color="#555555", line_width=0.8)
        p.segment(x0=INSET_TICKS, y0=[ya - tick_len] * 8, x1=INSET_TICKS, y1=[ya + 1.4 * tick_len] * 8,
                  x_range_name="ix", line_color="#555555", line_width=0.8)
        p.text(x=INSET_TICKS, y=[ya] * 8, text=INSET_LABELS, x_range_name="ix",
               text_font=value(FONT), text_font_size="8px", text_color="#8a8a8a",
               text_align="center", text_baseline="middle", y_offset=9)
    return p


def add_legends(p, panels, fig_left):
    for pan in panels:
        l, r, tp, bt = pan["box"]
        p.add_layout(BoxAnnotation(left=l - fig_left, right=r - fig_left,
                                   top=FIG_H - tp, bottom=FIG_H - bt,
                                   left_units="screen", right_units="screen",
                                   top_units="screen", bottom_units="screen",
                                   fill_color="white", fill_alpha=1.0,
                                   line_color="#111111", line_width=2, line_alpha=1.0))
        x0, x1 = pan["line"]
        yl = pan["ty"][0]
        p.add_layout(BoxAnnotation(left=x0 - fig_left, right=x1 - fig_left,
                                   top=FIG_H - yl + 0.75, bottom=FIG_H - yl - 0.75,
                                   left_units="screen", right_units="screen",
                                   top_units="screen", bottom_units="screen",
                                   fill_color=pan["color"], fill_alpha=1.0, line_color=None))
        for txt, ty in zip(pan["text"], pan["ty"]):
            p.add_layout(Label(x=pan["tx"] - fig_left, y=FIG_H - ty,
                               x_units="screen", y_units="screen", text=txt,
                               text_font=FONT, text_font_size="18px", text_color="#111111",
                               text_align="left", text_baseline="middle"))


LEFT_X, LEFT_W = 0, 578
RIGHT_X, RIGHT_W = 578, 550

left = build(LEFT_PANELS, LEFT_X, LEFT_W, 68.4, 67.8)
right = build(RIGHT_PANELS, RIGHT_X, RIGHT_W, 630.7, 622.3)
add_legends(left, LEFT_PANELS, LEFT_X)
add_legends(right, RIGHT_PANELS, RIGHT_X)

# axis titles with arrows
XLAB_Y = FIG_H - 1646
for p, fx, cx, a0, a1 in ((left, LEFT_X, 201.5, 318, 508),
                          (right, RIGHT_X, 780.5, 879, 1059)):
    p.add_layout(Label(x=cx - fx, y=XLAB_Y, x_units="screen", y_units="screen",
                       text="Röstdauer [sec]", text_font=FONT, text_font_size="25px",
                       text_color="#111111", text_align="center", text_baseline="middle"))
    p.add_layout(Arrow(x_start=a0 - fx, y_start=XLAB_Y, x_end=a1 - fx, y_end=XLAB_Y,
                       start_units="screen", end_units="screen", line_width=3.5, line_color="black",
                       end=NormalHead(size=12, fill_color="black", line_color="black")))

left.add_layout(Label(x=25 - LEFT_X, y=FIG_H - 1041, x_units="screen", y_units="screen",
                      text="REMPI@266nm-Signal [willkürl. Einheit]", angle=np.pi / 2,
                      text_font=FONT, text_font_size="26px", text_color="#111111",
                      text_align="center", text_baseline="middle"))
left.add_layout(Arrow(x_start=22 - LEFT_X, y_start=FIG_H - 715,
                      x_end=22 - LEFT_X, y_end=FIG_H - 291,
                      start_units="screen", end_units="screen", line_width=4, line_color="black",
                      end=NormalHead(size=13, fill_color="black", line_color="black")))

layout = row(left, right)
open("out.html", "w").write(file_html(layout, INLINE))
